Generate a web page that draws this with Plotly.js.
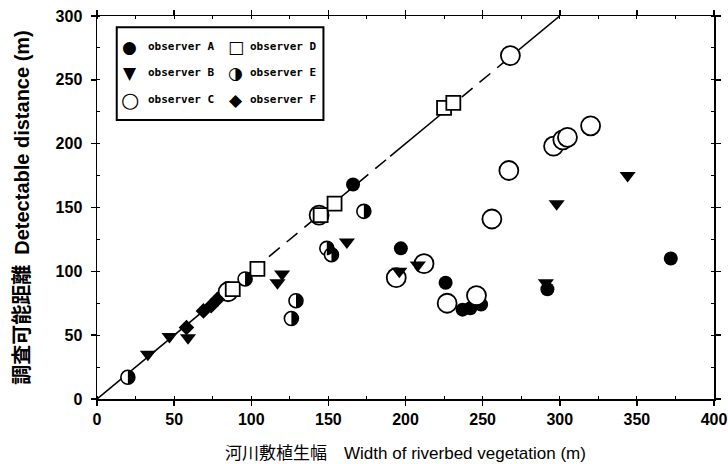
<!DOCTYPE html>
<html><head><meta charset="utf-8">
<script src="https://cdn.plot.ly/plotly-3.0.1.min.js"></script>
<style>html,body{margin:0;padding:0;background:#fff}#chart{width:728px;height:464px}</style>
</head><body><div id="chart"></div>
<script>
// ---- data ----
const obsA_x = [166, 197, 226, 237, 242, 249, 292, 372];
const obsA_y = [168, 118, 91, 70, 71, 74, 86, 110];
const obsB_x = [33, 47, 59, 117, 120, 162, 196, 208, 291, 298, 344];
const obsB_y = [35, 49, 48, 91, 98, 123, 100, 105, 91, 153, 175];
const obsC_x = [85, 144, 194, 212, 227, 246, 256, 267, 268, 296, 302, 305, 320];
const obsC_y = [84, 144, 95, 106, 75, 81, 141, 179, 269, 198, 203, 205, 214];
const obsD_x = [88, 104, 145, 154, 225, 231];
const obsD_y = [86, 102, 144, 153, 228, 232];
const obsE_x = [20, 96, 126, 129, 149, 152, 173];
const obsE_y = [17, 94, 63, 77, 118, 113, 147];
const obsF_x = [58, 69, 74, 78];
const obsF_y = [56, 69, 73, 78];
const refLineBreaks = [0, 100, 190, 225, 265, 300]; // 1:1 line, alternating solid / dashed pieces
const legendLabels = ['observer A', 'observer B', 'observer C', 'observer D', 'observer E', 'observer F'];
const legendGlyphs = ['\u25CF', '\u25BC', '\u25CB', '\u25A1', '\u25D1', '\u25C6'];
const xTitle = '河川敷植生幅\u2003Width of riverbed vegetation (m)';
const yTitle = '調査可能距離\u2002Detectable distance (m)';

const traces = [];
for (let i = 0; i < refLineBreaks.length - 1; i++) {
  traces.push({
    x: [refLineBreaks[i], refLineBreaks[i + 1]],
    y: [refLineBreaks[i], refLineBreaks[i + 1]],
    mode: 'lines', showlegend: false, hoverinfo: 'skip',
    line: {color: '#000', width: 1.6, dash: (i % 2 === 0) ? 'solid' : '14px,9px'}
  });
}
traces.push({x: obsA_x, y: obsA_y, mode: 'markers', name: 'observer A', showlegend: false,
  marker: {symbol: 'circle', size: 14, color: '#000'}});
traces.push({x: obsC_x, y: obsC_y, mode: 'markers', name: 'observer C', showlegend: false,
  marker: {symbol: 'circle', size: 19, color: '#fff', line: {color: '#000', width: 1.8}}});
traces.push({x: obsB_x, y: obsB_y, mode: 'markers', name: 'observer B', showlegend: false,
  marker: {symbol: 'triangle-down', size: 14, color: '#000'}});
traces.push({x: obsD_x, y: obsD_y, mode: 'markers', name: 'observer D', showlegend: false,
  marker: {symbol: 'square', size: 14, color: '#fff', line: {color: '#000', width: 1.8}}});
traces.push({x: obsE_x, y: obsE_y, mode: 'markers', name: 'observer E', showlegend: false,
  marker: {symbol: 'circle', size: 14, color: '#fff', line: {color: '#000', width: 1.6}}});
traces.push({x: obsF_x, y: obsF_y, mode: 'markers', name: 'observer F', showlegend: false,
  marker: {symbol: 'diamond', size: 12, color: '#000'}});

// right black half of the observer E symbol, anchored at each E data point (pixel-sized)
const halfShapes = obsE_x.map((x, i) => ({
  type: 'path', xref: 'x', yref: 'y', xsizemode: 'pixel', ysizemode: 'pixel',
  xanchor: x, yanchor: obsE_y[i],
  path: 'M0,7 C3.87,7 7,3.87 7,0 C7,-3.87 3.87,-7 0,-7 Z',
  fillcolor: '#000', line: {width: 0}, layer: 'above'
}));

// legend built from the label/glyph arrays (positions are layout, in paper units)
const colSym = [0.053, 0.225], colLab = [0.080, 0.244], rowY = [0.920, 0.852, 0.781];
const annotations = [];
legendLabels.forEach((lab, i) => {
  const c = Math.floor(i / 3), r = i % 3;
  annotations.push({xref: 'paper', yref: 'paper', x: colSym[c], y: rowY[r], text: legendGlyphs[i],
    showarrow: false, xanchor: 'center', yanchor: 'middle',
    font: {family: 'DejaVu Sans', size: (i === 2 ? 21 : 17), color: '#000'}});
  annotations.push({xref: 'paper', yref: 'paper', x: colLab[c], y: rowY[r], text: lab,
    showarrow: false, xanchor: 'left', yanchor: 'middle',
    font: {family: 'DejaVu Sans Mono', size: 11, color: '#000', weight: 'bold'}});
});

const axisCommon = {
  showgrid: false, zeroline: false, showline: true, linecolor: '#000', linewidth: 1.5,
  mirror: 'ticks', ticks: 'outside', ticklen: 5, tickwidth: 1.5, tickcolor: '#000',
  tickfont: {family: 'Liberation Sans, Arial, sans-serif', size: 16, color: '#000', weight: 'bold'},
  minor: {dtick: 25, ticks: 'inside', ticklen: 3, tickwidth: 1, tickcolor: '#000'}
};

const layout = {
  width: 728, height: 464,
  margin: {l: 97, r: 14, t: 16, b: 65},
  paper_bgcolor: '#fff', plot_bgcolor: '#fff',
  showlegend: false,
  xaxis: Object.assign({}, axisCommon, {range: [0, 400], dtick: 50, tick0: 0,
    title: {text: xTitle, standoff: 20,
      font: {family: 'Liberation Sans, Noto Sans CJK JP, sans-serif', size: 17, color: '#000'}}}),
  yaxis: Object.assign({}, axisCommon, {range: [0, 300], dtick: 50, tick0: 0, ticklabelstandoff: 5,
    title: {text: yTitle, standoff: 20,
      font: {family: 'Liberation Sans, Noto Sans CJK JP, sans-serif', size: 20, color: '#000', weight: 'bold'}}}),
  shapes: [{type: 'rect', xref: 'paper', yref: 'paper', x0: 0.032, x1: 0.367, y0: 0.7285, y1: 0.9705,
    line: {color: '#000', width: 2}, fillcolor: 'rgba(0,0,0,0)'}].concat(halfShapes),
  annotations: annotations
};

Plotly.newPlot('chart', traces, layout, {staticPlot: true, displayModeBar: false});
</script>
</body></html>
